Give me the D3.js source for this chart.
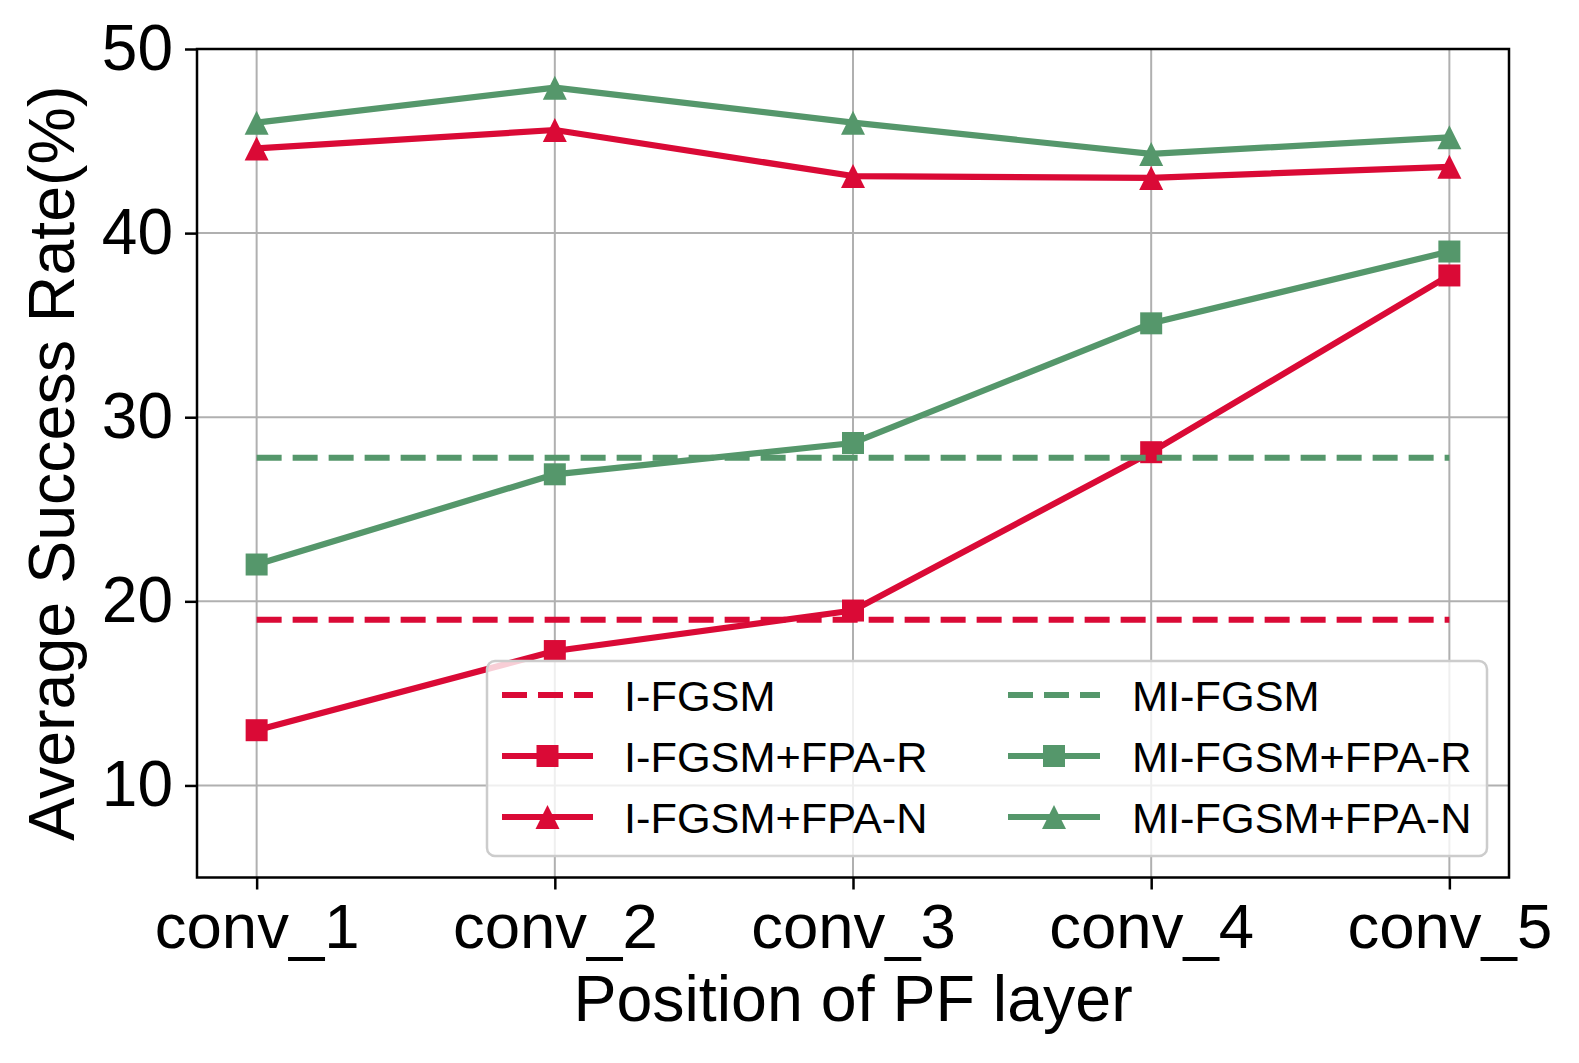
<!DOCTYPE html>
<html>
<head>
<meta charset="utf-8">
<script src="https://cdn.jsdelivr.net/npm/d3@7"></script>
<style>
  html, body { margin: 0; padding: 0; background: #fff; }
  svg { display: block; font-family: "Liberation Sans", Arial, sans-serif; }
</style>
</head>
<body>
<svg id="chart" width="1579" height="1063"></svg>
<script>
// ---- data ----
const categories = ["conv_1", "conv_2", "conv_3", "conv_4", "conv_5"];
const iFgsmBaseline = 19.0;
const miFgsmBaseline = 27.8;
const iFgsmFpaR = [13.0, 17.3, 19.5, 28.1, 37.7];
const iFgsmFpaN = [44.6, 45.6, 43.1, 43.0, 43.6];
const miFgsmFpaR = [22.0, 26.9, 28.6, 35.1, 39.0];
const miFgsmFpaN = [46.0, 47.9, 46.0, 44.3, 45.2];
const yTicks = [10, 20, 30, 40, 50];
const seriesNames = ["I-FGSM", "I-FGSM+FPA-R", "I-FGSM+FPA-N", "MI-FGSM", "MI-FGSM+FPA-R", "MI-FGSM+FPA-N"];
const xLabel = "Position of PF layer";
const yLabel = "Average Success Rate(%)";

const RED = "#da0a36";
const GREEN = "#55976b";

const series = [
  { name: seriesNames[0], color: RED, dashed: true, marker: null, values: categories.map(() => iFgsmBaseline) },
  { name: seriesNames[1], color: RED, dashed: false, marker: "square", values: iFgsmFpaR },
  { name: seriesNames[2], color: RED, dashed: false, marker: "triangle", values: iFgsmFpaN },
  { name: seriesNames[3], color: GREEN, dashed: true, marker: null, values: categories.map(() => miFgsmBaseline) },
  { name: seriesNames[4], color: GREEN, dashed: false, marker: "square", values: miFgsmFpaR },
  { name: seriesNames[5], color: GREEN, dashed: false, marker: "triangle", values: miFgsmFpaN }
];

// ---- layout ----
const L = 197, R = 1509, T = 49, B = 877.5;
const LW = 6.2, DASH = "25,11";
const svg = d3.select("#chart");

const x = d3.scaleLinear().domain([-0.2, categories.length - 1 + 0.2]).range([L, R]);
const y = d3.scaleLinear().domain([5, 50]).range([B, T]);

// grid
const grid = svg.append("g");
grid.selectAll("line.vx").data(categories).enter().append("line")
  .attr("x1", (d, i) => x(i)).attr("x2", (d, i) => x(i))
  .attr("y1", T).attr("y2", B)
  .attr("stroke", "#b0b0b0").attr("stroke-width", 2);
grid.selectAll("line.hy").data(yTicks).enter().append("line")
  .attr("x1", L).attr("x2", R)
  .attr("y1", d => y(d)).attr("y2", d => y(d))
  .attr("stroke", "#b0b0b0").attr("stroke-width", 2);

// axes
const xAxis = d3.axisBottom(x).tickValues(d3.range(categories.length))
  .tickFormat(i => categories[i]).tickSize(12).tickPadding(13);
const gx = svg.append("g").attr("transform", `translate(0,${B})`).call(xAxis);
gx.select(".domain").remove();
gx.selectAll("line").attr("stroke", "#000").attr("stroke-width", 2.5);
gx.selectAll("text").attr("font-size", 63.5).attr("fill", "#000")
  .attr("font-family", "Liberation Sans, Arial, sans-serif");

const yAxis = d3.axisLeft(y).tickValues(yTicks).tickSize(12).tickPadding(12);
const gy = svg.append("g").attr("transform", `translate(${L},0)`).call(yAxis);
gy.select(".domain").remove();
gy.selectAll("line").attr("stroke", "#000").attr("stroke-width", 2.5);
gy.selectAll("text").attr("font-size", 64).attr("fill", "#000")
  .attr("font-family", "Liberation Sans, Arial, sans-serif");

// frame
svg.append("rect").attr("x", L).attr("y", T).attr("width", R - L).attr("height", B - T)
  .attr("fill", "none").attr("stroke", "#000").attr("stroke-width", 2.5);

// lines
const lineGen = d3.line().x((d, i) => x(i)).y(d => y(d));
const sqSize = 22, triSize = 24;
function markerPath(type) {
  if (type === "square") {
    const h = sqSize / 2;
    return `M${-h},${-h}H${h}V${h}H${-h}Z`;
  }
  const w = triSize / 2;
  return `M0,${-w}L${w},${w}L${-w},${w}Z`;
}

const plot = svg.append("g");
series.forEach(s => {
  if (s.dashed) {
    plot.append("path").datum(s.values).attr("d", lineGen)
      .attr("fill", "none").attr("stroke", s.color).attr("stroke-width", LW)
      .attr("stroke-dasharray", DASH);
  } else {
    plot.append("path").datum(s.values).attr("d", lineGen)
      .attr("fill", "none").attr("stroke", s.color).attr("stroke-width", LW)
      .attr("stroke-linejoin", "round");
    plot.selectAll(null).data(s.values).enter().append("path")
      .attr("d", markerPath(s.marker))
      .attr("transform", (d, i) => `translate(${x(i)},${y(d)})`)
      .attr("fill", s.color);
  }
});

// labels
svg.append("text").attr("x", (L + R) / 2).attr("y", 1021)
  .attr("text-anchor", "middle").attr("font-size", 64.5).attr("fill", "#000")
  .text(xLabel);
svg.append("text")
  .attr("transform", `translate(74,${(T + B) / 2}) rotate(-90)`)
  .attr("text-anchor", "middle").attr("font-size", 64.5).attr("fill", "#000")
  .text(yLabel);

// legend
const lg = svg.append("g");
lg.append("rect").attr("x", 487).attr("y", 661).attr("width", 1000).attr("height", 195)
  .attr("rx", 8).attr("ry", 8)
  .attr("fill", "#fff").attr("fill-opacity", 0.8)
  .attr("stroke", "#cccccc").attr("stroke-width", 2.5);
const colX = [[502, 593, 624], [1008, 1100, 1132]];
const rowY = [695, 756, 817];
const legendOrder = [[0, 1, 2], [3, 4, 5]];
legendOrder.forEach((col, ci) => {
  col.forEach((si, ri) => {
    const s = series[si];
    const [x1, x2, tx] = colX[ci];
    const yy = rowY[ri];
    const ln = lg.append("line").attr("x1", x1).attr("x2", x2).attr("y1", yy).attr("y2", yy)
      .attr("stroke", s.color).attr("stroke-width", LW);
    if (s.dashed) ln.attr("stroke-dasharray", DASH);
    if (s.marker) {
      lg.append("path").attr("d", markerPath(s.marker))
        .attr("transform", `translate(${(x1 + x2) / 2},${yy})`).attr("fill", s.color);
    }
    lg.append("text").attr("x", tx).attr("y", yy + 15.5)
      .attr("font-size", 43.3).attr("fill", "#000").text(s.name);
  });
});
</script>
</body>
</html>
